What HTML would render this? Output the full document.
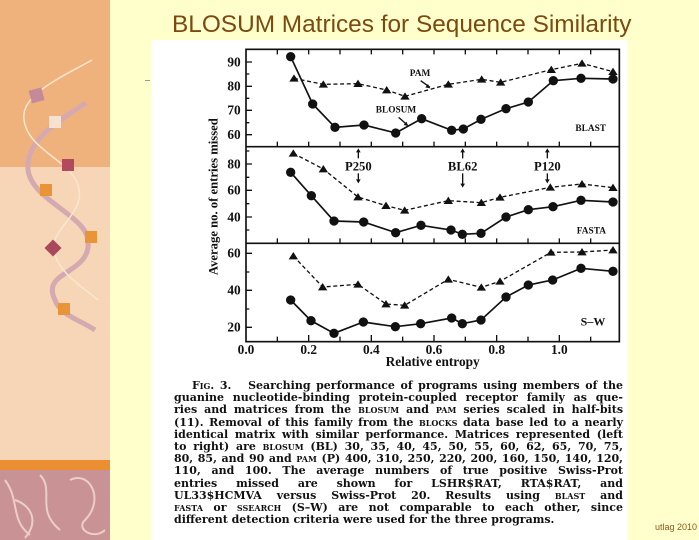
<!DOCTYPE html>
<html><head><meta charset="utf-8"><style>
html,body{margin:0;padding:0}
body{width:699px;height:540px;position:relative;overflow:hidden;background:#ffffcc;font-family:"Liberation Sans",sans-serif}
.abs{position:absolute}
.cap{position:absolute;left:174px;width:449px;font-family:"DejaVu Serif","Liberation Serif",serif;font-weight:bold;font-size:11px;line-height:12px;color:#111;text-align:justify;text-align-last:justify;white-space:nowrap}
.sc{font-variant:small-caps}
</style></head><body>
<div class="abs" style="left:0;top:0;width:110px;height:167px;background:#f0b27c"></div>
<div class="abs" style="left:0;top:167px;width:110px;height:293px;background:#f6d6b6"></div>
<div class="abs" style="left:0;top:460px;width:110px;height:10px;background:#ec8e32"></div>
<div class="abs" style="left:0;top:470px;width:110px;height:70px;background:#c99295"></div>
<svg class="abs" style="left:0;top:0" width="110" height="540" viewBox="0 0 110 540">
<path d="M86 103 C60 120,25 140,28 170 C32 200,85 215,88 240 C92 275,40 270,55 300 C60 315,80 320,95 330" stroke="#d4aab0" stroke-width="5" fill="none"/>
<path d="M92 60 C60 78,20 95,24 120 C28 150,70 160,78 185 C88 215,45 230,55 255 C62 275,80 285,98 300" stroke="#fbe6d0" stroke-width="1.5" fill="none"/>
<g fill="none" stroke="#f5ddd5" stroke-width="2" opacity="0.8">
<path d="M5 480 C20 500,10 520,30 535"/><path d="M40 475 C55 490,35 510,60 530"/><path d="M70 480 C90 470,105 500,85 520 C75 530,95 540,105 530"/><path d="M15 500 C30 505,40 520,25 538"/>
</g>
<rect x="30" y="89" width="13" height="13" fill="#c48a98" transform="rotate(-15 36 95)"/>
<rect x="49" y="116" width="12" height="12" fill="#f5e2d0"/>
<rect x="62" y="159" width="12" height="12" fill="#b04a5c"/>
<rect x="40" y="184" width="12" height="12" fill="#ea9438"/>
<rect x="85" y="231" width="12" height="12" fill="#ea9438"/>
<rect x="47" y="242" width="12" height="12" fill="#a8485a" transform="rotate(45 53 248)"/>
<rect x="58" y="303" width="12" height="12" fill="#ea9438"/>
</svg>
<div class="abs" style="left:145px;top:80px;width:5px;height:1px;background:#999"></div>
<div class="abs" style="left:151px;top:40px;width:477px;height:500px;background:#fff"></div>
<div class="abs" style="left:172px;top:11px;font-size:24.4px;color:#7a4a10;white-space:nowrap">BLOSUM Matrices for Sequence Similarity</div>

<svg class="abs" style="left:150px;top:40px" width="500" height="330" viewBox="0 0 1500 990">
<g stroke="#111" stroke-width="5" fill="none">
<rect x="288" y="28" width="1120" height="877"/>
<line x1="288" y1="320" x2="1408" y2="320"/>
<line x1="288" y1="610" x2="1408" y2="610"/>
</g>
<g stroke="#111" stroke-width="4">
<path d="M382 905v-15M476 905v-20M570 905v-15M664 905v-20M758 905v-15M852 905v-20M946 905v-15M1040 905v-20M1134 905v-15M1228 905v-20M1322 905v-15
M382 610v-15M476 610v-15M570 610v-15M664 610v-15M758 610v-15M852 610v-15M946 610v-15M1040 610v-15M1134 610v-15M1228 610v-15M1322 610v-15
M382 320v-15M476 320v-15M570 320v-15M664 320v-15M758 320v-15M852 320v-15M946 320v-15M1040 320v-15M1134 320v-15M1228 320v-15M1322 320v-15
M382 28v15M476 28v15M570 28v15M664 28v15M758 28v15M852 28v15M946 28v15M1040 28v15M1134 28v15M1228 28v15M1322 28v15"/>
<path d="M288 66h18M288 102h10M288 139h18M288 175h10M288 211h18M288 248h10M288 284h18
M288 333h10M288 372h18M288 412h10M288 451h18M288 491h10M288 531h18M288 570h10
M288 640h18M288 696h10M288 751h18M288 807h10M288 862h18"/>
</g>
<g font-family="Liberation Serif,serif" font-weight="bold" font-size="40" fill="#111" text-anchor="end">
<text x="272" y="79">90</text><text x="272" y="152">80</text><text x="272" y="224">70</text><text x="272" y="297">60</text>
<text x="272" y="385">80</text><text x="272" y="464">60</text><text x="272" y="544">40</text>
<text x="272" y="653">60</text><text x="272" y="764">40</text><text x="272" y="875">20</text>
</g>
<g font-family="Liberation Serif,serif" font-weight="bold" font-size="40" fill="#111" text-anchor="middle">
<text x="288" y="942">0.0</text><text x="476" y="942">0.2</text><text x="664" y="942">0.4</text><text x="852" y="942">0.6</text><text x="1040" y="942">0.8</text><text x="1228" y="942">1.0</text>
<text x="848" y="978">Relative entropy</text>
<text transform="translate(203 470) rotate(-90)" font-size="38">Average no. of entries missed</text>
</g>
<g font-family="Liberation Serif,serif" font-weight="bold" fill="#111">
<text x="1368" y="273" font-size="28" text-anchor="end">BLAST</text>
<text x="1368" y="581" font-size="28" text-anchor="end">FASTA</text>
<text x="1366" y="857" font-size="36" text-anchor="end">S–W</text>
<text x="810" y="108" font-size="28" text-anchor="middle">PAM</text>
<text x="738" y="218" font-size="28" text-anchor="middle">BLOSUM</text>
<text x="625" y="391" font-size="38" text-anchor="middle">P250</text>
<text x="938" y="391" font-size="38" text-anchor="middle">BL62</text>
<text x="1192" y="391" font-size="38" text-anchor="middle">P120</text>
</g>
<g stroke="#111" stroke-width="4" fill="none">
<path d="M812 122L840 142M746 232L772 255"/>
<path d="M625 355V330M938 355V330M1192 355V330M625 400V425M938 400V438M1192 400V425"/>
</g>
<g fill="#111">
<path d="M840 145l-14-3 8-10z M775 258l-14-3 8-10z"/>
<path d="M625 325l-7 12h14z M938 325l-7 12h14z M1192 325l-7 12h14z M625 430l-7-12h14z M938 443l-7-12h14z M1192 430l-7-12h14z"/>
</g>
<g stroke="#111" stroke-width="5" fill="none">
<polyline points="422,50 488,192 555,262 642,255 737,279 815,236 905,271 940,267 993,238 1068,206 1135,186 1210,122 1293,115 1389,117"/>
<polyline points="422,397 484,467 552,543 641,546 737,578 813,556 903,570 937,583 993,580 1068,531 1135,509 1209,500 1293,481 1389,486"/>
<polyline points="422,780 483,842 552,880 640,846 736,860 812,851 905,834 937,851 993,840 1068,771 1135,735 1208,720 1293,685 1389,694"/>
</g>
<g stroke="#111" stroke-width="4" stroke-dasharray="12 8" fill="none">
<polyline points="432,115 520,133 624,131 710,150 765,169 895,133 995,118 1052,127 1204,89 1296,70 1389,95"/>
<polyline points="430,340 520,387 624,471 708,497 764,511 895,482 994,488 1050,472 1201,442 1296,432 1389,443"/>
<polyline points="430,648 518,741 624,733 708,792 764,796 895,718 994,742 1050,724 1203,637 1296,636 1389,630"/>
</g>
<g fill="#111">
<circle cx="422" cy="50" r="14"/><circle cx="488" cy="192" r="14"/><circle cx="555" cy="262" r="14"/><circle cx="642" cy="255" r="14"/><circle cx="737" cy="279" r="14"/><circle cx="815" cy="236" r="14"/><circle cx="905" cy="271" r="14"/><circle cx="940" cy="267" r="14"/><circle cx="993" cy="238" r="14"/><circle cx="1068" cy="206" r="14"/><circle cx="1135" cy="186" r="14"/><circle cx="1210" cy="122" r="14"/><circle cx="1293" cy="115" r="14"/><circle cx="1389" cy="117" r="14"/>
<circle cx="422" cy="397" r="14"/><circle cx="484" cy="467" r="14"/><circle cx="552" cy="543" r="14"/><circle cx="641" cy="546" r="14"/><circle cx="737" cy="578" r="14"/><circle cx="813" cy="556" r="14"/><circle cx="903" cy="570" r="14"/><circle cx="937" cy="583" r="14"/><circle cx="993" cy="580" r="14"/><circle cx="1068" cy="531" r="14"/><circle cx="1135" cy="509" r="14"/><circle cx="1209" cy="500" r="14"/><circle cx="1293" cy="481" r="14"/><circle cx="1389" cy="486" r="14"/>
<circle cx="422" cy="780" r="14"/><circle cx="483" cy="842" r="14"/><circle cx="552" cy="880" r="14"/><circle cx="640" cy="846" r="14"/><circle cx="736" cy="860" r="14"/><circle cx="812" cy="851" r="14"/><circle cx="905" cy="834" r="14"/><circle cx="937" cy="851" r="14"/><circle cx="993" cy="840" r="14"/><circle cx="1068" cy="771" r="14"/><circle cx="1135" cy="735" r="14"/><circle cx="1208" cy="720" r="14"/><circle cx="1293" cy="685" r="14"/><circle cx="1389" cy="694" r="14"/>
</g>
<g fill="#111">
<path d="M432 103l-14 22h28zM520 121l-14 22h28zM624 119l-14 22h28zM710 138l-14 22h28zM765 157l-14 22h28zM895 121l-14 22h28zM995 106l-14 22h28zM1052 115l-14 22h28zM1204 77l-14 22h28zM1296 58l-14 22h28zM1389 83l-14 22h28z"/>
<path d="M430 328l-14 22h28zM520 375l-14 22h28zM624 459l-14 22h28zM708 485l-14 22h28zM764 499l-14 22h28zM895 470l-14 22h28zM994 476l-14 22h28zM1050 460l-14 22h28zM1201 430l-14 22h28zM1296 420l-14 22h28zM1389 431l-14 22h28z"/>
<path d="M430 636l-14 22h28zM518 729l-14 22h28zM624 721l-14 22h28zM708 780l-14 22h28zM764 784l-14 22h28zM895 706l-14 22h28zM994 730l-14 22h28zM1050 712l-14 22h28zM1203 625l-14 22h28zM1296 624l-14 22h28zM1389 618l-14 22h28z"/>
</g>
</svg>

<div class="cap" style="top:380px;left:192px;width:431px"><span class="sc">Fig.</span> 3.&nbsp;&nbsp; Searching performance of programs using members of the</div>
<div class="cap" style="top:392px">guanine nucleotide-binding protein-coupled receptor family as que-</div>
<div class="cap" style="top:404px">ries and matrices from the <span class="sc">blosum</span> and <span class="sc">pam</span> series scaled in half-bits</div>
<div class="cap" style="top:417px">(11). Removal of this family from the <span class="sc">blocks</span> data base led to a nearly</div>
<div class="cap" style="top:429px">identical matrix with similar performance. Matrices represented (left</div>
<div class="cap" style="top:441px">to right) are <span class="sc">blosum</span> (BL) 30, 35, 40, 45, 50, 55, 60, 62, 65, 70, 75,</div>
<div class="cap" style="top:453px">80, 85, and 90 and <span class="sc">pam</span> (P) 400, 310, 250, 220, 200, 160, 150, 140, 120,</div>
<div class="cap" style="top:465px">110, and 100. The average numbers of true positive Swiss-Prot</div>
<div class="cap" style="top:478px">entries missed are shown for LSHR$RAT, RTA$RAT, and</div>
<div class="cap" style="top:490px">UL33$HCMVA versus Swiss-Prot 20. Results using <span class="sc">blast</span> and</div>
<div class="cap" style="top:502px"><span class="sc">fasta</span> or <span class="sc">ssearch</span> (S–W) are not comparable to each other, since</div>
<div class="cap" style="top:514px;text-align-last:left">different detection criteria were used for the three programs.</div>
<div class="abs" style="left:655px;top:522px;font-size:9px;color:#8a5a20;white-space:nowrap">utlag 2010</div>
</body></html>
